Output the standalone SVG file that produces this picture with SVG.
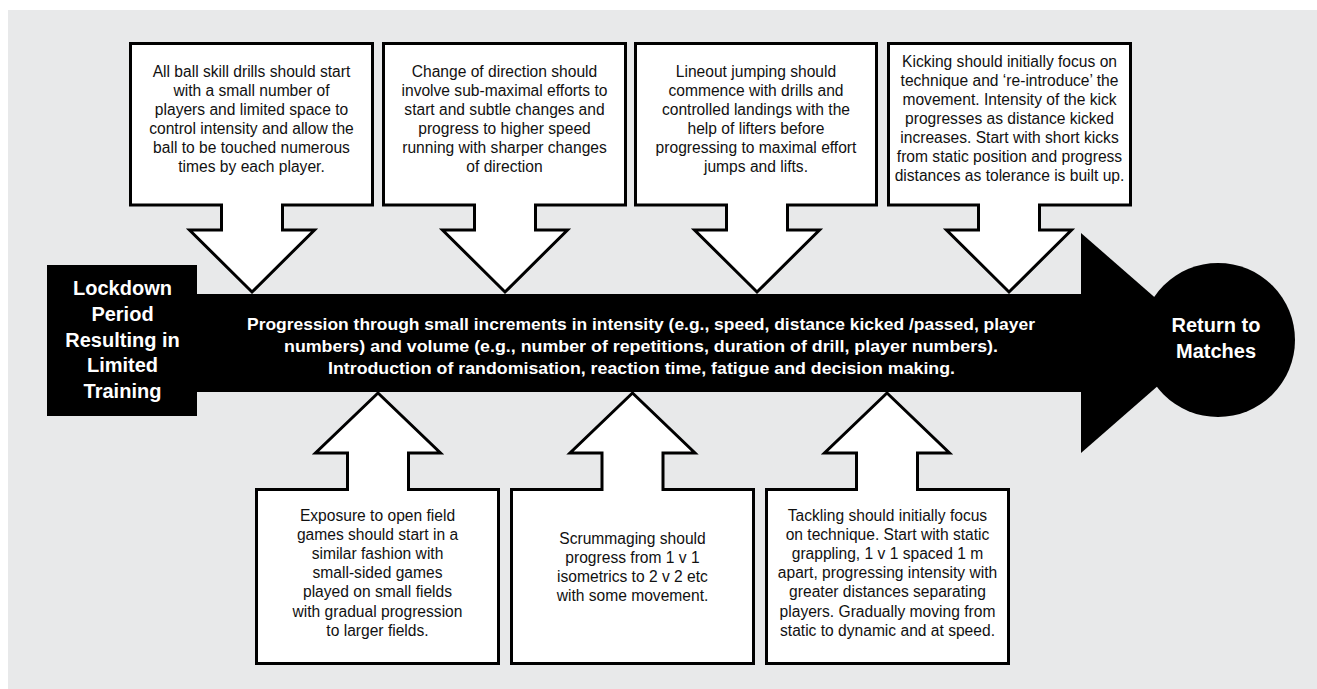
<svg xmlns="http://www.w3.org/2000/svg" width="1317" height="689" viewBox="0 0 1317 689">
<style>
.bg{fill:#e8e9ea}
.co{fill:#fff;stroke:#000;stroke-width:3;stroke-linejoin:miter}
.blk{fill:#000}
.t{font-family:"Liberation Sans",Arial,sans-serif;font-size:15.6px;fill:#111;text-anchor:middle}
.w{font-family:"Liberation Sans",Arial,sans-serif;font-weight:bold;fill:#fff;text-anchor:middle}
.m{font-size:17px}
.h{font-size:20px}
</style>
<rect class="bg" x="8" y="10" width="1309" height="679"/>

<g id="main-arrow">
  <rect class="blk" x="197" y="294" width="886" height="98"/>
  <polygon class="blk" points="1081,233 1207,343 1081,453"/>
  <text class="w m" x="641" y="330" textLength="788" lengthAdjust="spacingAndGlyphs">Progression through small increments in intensity (e.g., speed, distance kicked /passed, player</text>
  <text class="w m" x="641" y="352" textLength="714" lengthAdjust="spacingAndGlyphs">numbers) and volume (e.g., number of repetitions, duration of drill, player numbers).</text>
  <text class="w m" x="641.5" y="374" textLength="627" lengthAdjust="spacingAndGlyphs">Introduction of randomisation, reaction time, fatigue and decision making.</text>
</g>

<g id="lockdown">
  <rect class="blk" x="47" y="265" width="150" height="151"/>
  <text class="w h" x="122.5" y="295">Lockdown</text>
  <text class="w h" x="122.5" y="321">Period</text>
  <text class="w h" x="122.5" y="347">Resulting in</text>
  <text class="w h" x="122.5" y="372">Limited</text>
  <text class="w h" x="122.5" y="398">Training</text>
</g>

<g id="return">
  <circle class="blk" cx="1218" cy="340" r="77"/>
  <text class="w h" x="1216" y="332">Return to</text>
  <text class="w h" x="1216" y="358">Matches</text>
</g>

<g id="callout-ball-skills">
  <path class="co" d="M130.5,43.5 H372.5 V205 H282.5 V230 H314.5 L252,292 L189.5,230 H221.5 V205 H130.5 Z"/>
  <text class="t" x="251.5" y="77">All ball skill drills should start</text>
  <text class="t" x="251.5" y="96">with a small number of</text>
  <text class="t" x="251.5" y="115">players and limited space to</text>
  <text class="t" x="251.5" y="134">control intensity and allow the</text>
  <text class="t" x="251.5" y="153">ball to be touched numerous</text>
  <text class="t" x="251.5" y="172">times by each player.</text>
</g>

<g id="callout-direction">
  <path class="co" d="M383.5,43.5 H625.5 V205 H535.5 V230 H567.5 L505,292 L442.5,230 H474.5 V205 H383.5 Z"/>
  <text class="t" x="504.5" y="77">Change of direction should</text>
  <text class="t" x="504.5" y="96">involve sub-maximal efforts to</text>
  <text class="t" x="504.5" y="115">start and subtle changes and</text>
  <text class="t" x="504.5" y="134">progress to higher speed</text>
  <text class="t" x="504.5" y="153">running with sharper changes</text>
  <text class="t" x="504.5" y="172">of direction</text>
</g>

<g id="callout-lineout">
  <path class="co" d="M635.5,43.5 H876.5 V205 H787.5 V230 H819.5 L757,292 L694.5,230 H726.5 V205 H635.5 Z"/>
  <text class="t" x="756" y="77">Lineout jumping should</text>
  <text class="t" x="756" y="96">commence with drills and</text>
  <text class="t" x="756" y="115">controlled landings with the</text>
  <text class="t" x="756" y="134">help of lifters before</text>
  <text class="t" x="756" y="153">progressing to maximal effort</text>
  <text class="t" x="756" y="172">jumps and lifts.</text>
</g>

<g id="callout-kicking">
  <path class="co" d="M888.5,43.5 H1130.5 V205 H1039.5 V230 H1071.5 L1009,292 L946.5,230 H978.5 V205 H888.5 Z"/>
  <text class="t" x="1009.5" y="67">Kicking should initially focus on</text>
  <text class="t" x="1009.5" y="86">technique and ‘re-introduce’ the</text>
  <text class="t" x="1009.5" y="105">movement. Intensity of the kick</text>
  <text class="t" x="1009.5" y="124">progresses as distance kicked</text>
  <text class="t" x="1009.5" y="143">increases. Start with short kicks</text>
  <text class="t" x="1009.5" y="162">from static position and progress</text>
  <text class="t" x="1009.5" y="181">distances as tolerance is built up.</text>
</g>

<g id="callout-open-field">
  <path class="co" d="M256.5,663.5 H498.5 V489.5 H408.5 V453 H440.5 L378,393 L315.5,453 H347.5 V489.5 H256.5 Z"/>
  <text class="t" x="377.5" y="520.5">Exposure to open field</text>
  <text class="t" x="377.5" y="539.7">games should start in a</text>
  <text class="t" x="377.5" y="558.9">similar fashion with</text>
  <text class="t" x="377.5" y="578.1">small-sided games</text>
  <text class="t" x="377.5" y="597.3">played on small fields</text>
  <text class="t" x="377.5" y="616.5">with gradual progression</text>
  <text class="t" x="377.5" y="635.7">to larger fields.</text>
</g>

<g id="callout-scrum">
  <path class="co" d="M511.5,663.5 H753.5 V489.5 H663 V453 H695 L632.5,393 L570,453 H602 V489.5 H511.5 Z"/>
  <text class="t" x="632.5" y="543.5">Scrummaging should</text>
  <text class="t" x="632.5" y="562.7">progress from 1 v 1</text>
  <text class="t" x="632.5" y="581.9">isometrics to 2 v 2 etc</text>
  <text class="t" x="632.5" y="601.1">with some movement.</text>
</g>

<g id="callout-tackling">
  <path class="co" d="M766.5,663.5 H1008.5 V489.5 H917.5 V453 H949.5 L887,393 L824.5,453 H856.5 V489.5 H766.5 Z"/>
  <text class="t" x="887.5" y="520.5">Tackling should initially focus</text>
  <text class="t" x="887.5" y="539.7">on technique. Start with static</text>
  <text class="t" x="887.5" y="558.9">grappling, 1 v 1 spaced 1 m</text>
  <text class="t" x="887.5" y="578.1">apart, progressing intensity with</text>
  <text class="t" x="887.5" y="597.3">greater distances separating</text>
  <text class="t" x="887.5" y="616.5">players. Gradually moving from</text>
  <text class="t" x="887.5" y="635.7">static to dynamic and at speed.</text>
</g>

<g id="connectors"></g>
</svg>
